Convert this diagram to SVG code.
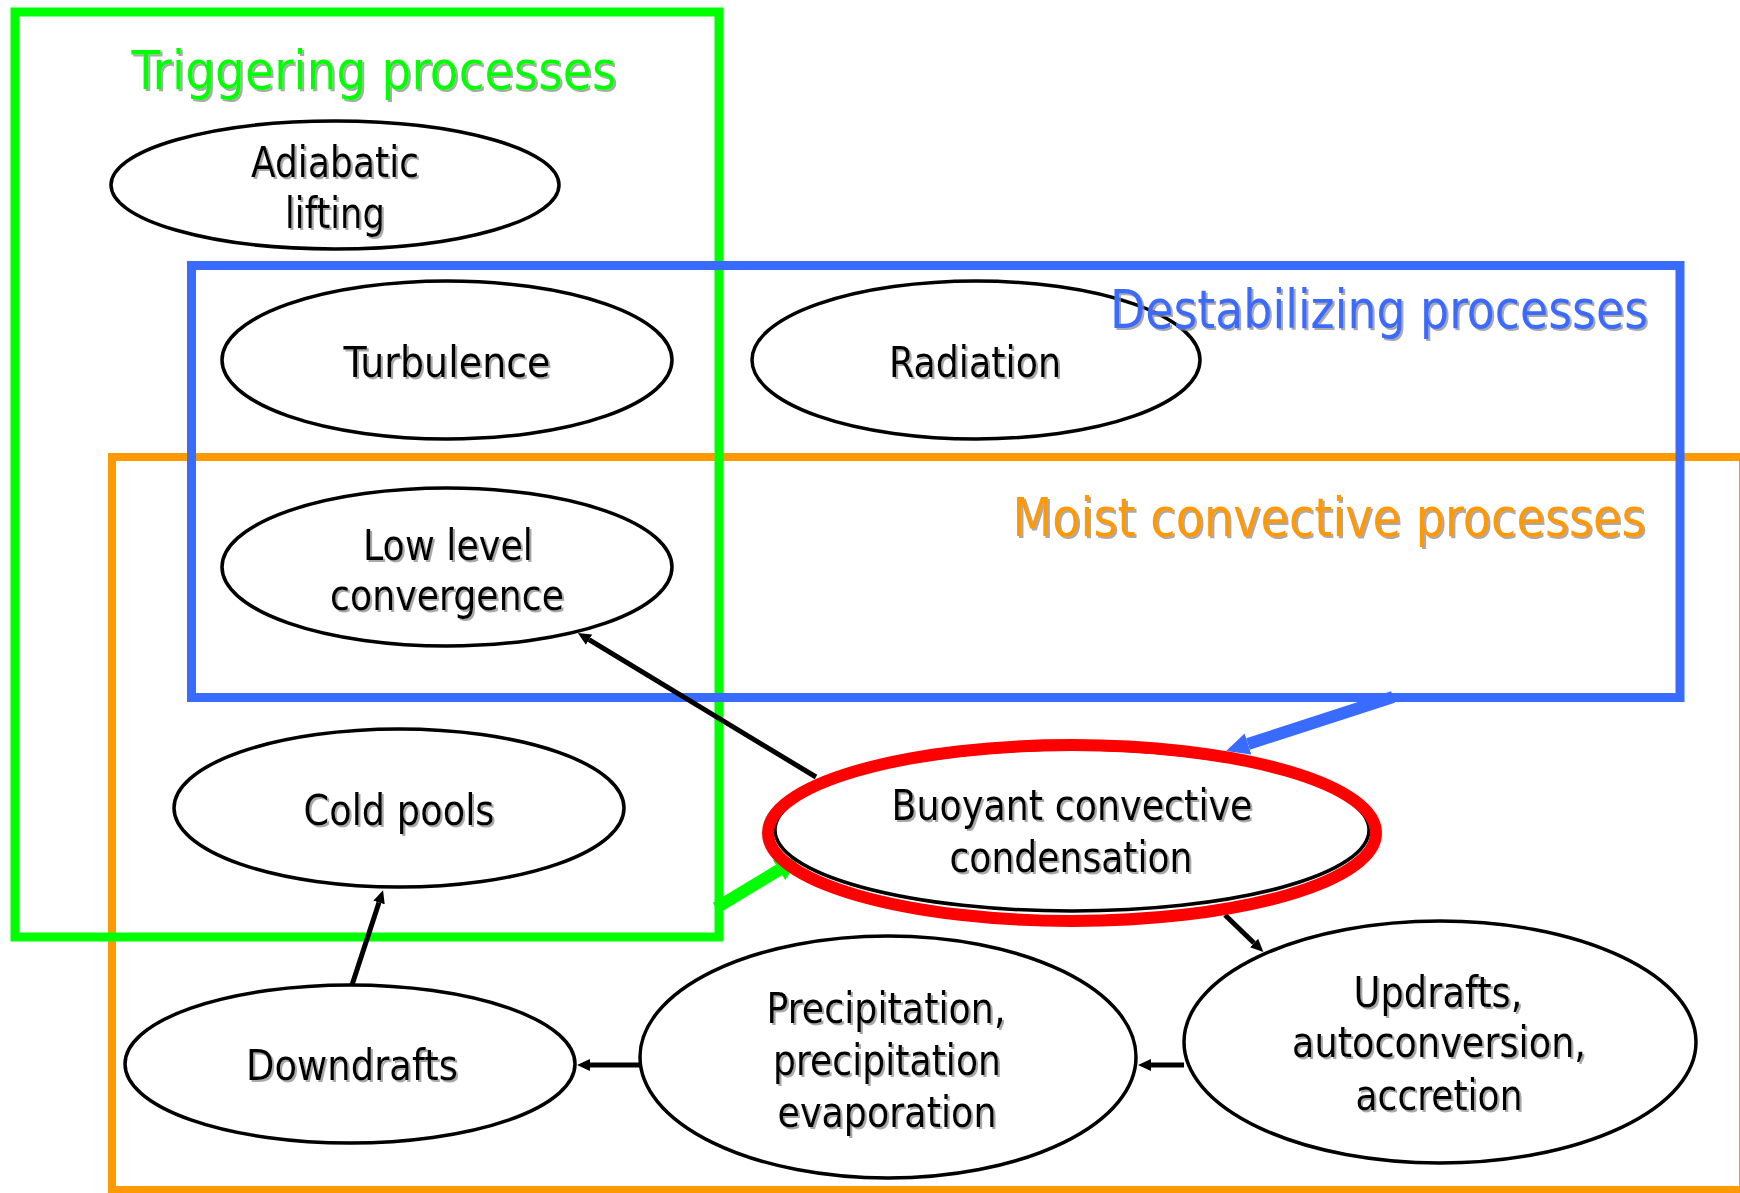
<svg xmlns="http://www.w3.org/2000/svg" width="1740" height="1193" viewBox="0 0 1740 1193">
  <defs>
    <style>
      .region { fill: none; stroke-width: 9; }
      .green { stroke: #00FF00; }
      .blue { stroke: #3A6BFF; }
      .orange { stroke: #FF9900; stroke-width: 8; }
      .node { fill: #FFFFFF; stroke: #000000; stroke-width: 3.5; }
      text { font-family: "DejaVu Sans Condensed", "DejaVu Sans", "Liberation Sans Narrow", sans-serif; font-stretch: condensed; text-anchor: middle; filter: url(#shadow); }
      .label { font-size: 42px; fill: #000000; }
      .title { font-size: 54px; }
      .link { stroke: #000000; stroke-width: 5; fill: none; marker-end: url(#head); }
      .push { stroke-width: 12; fill: none; }
    </style>
    <filter id="shadow" x="-5%" y="-20%" width="115%" height="150%">
      <feDropShadow dx="2" dy="2" stdDeviation="0.6" flood-color="#8C8C8C" flood-opacity="0.75"/>
    </filter>
    <marker id="head" markerUnits="userSpaceOnUse" viewBox="0 -7 14 14" refX="0" refY="0" markerWidth="14" markerHeight="14" orient="auto">
      <path d="M0,-6 L13,0 L0,6 z" fill="#000000"/>
    </marker>
    <marker id="head-blue" markerUnits="userSpaceOnUse" viewBox="0 -12 25 24" refX="0" refY="0" markerWidth="25" markerHeight="24" orient="auto">
      <path d="M0,-11 L23,0 L0,11 z" fill="#3A6BFF"/>
    </marker>
    <marker id="head-green" markerUnits="userSpaceOnUse" viewBox="0 -13 26 26" refX="0" refY="0" markerWidth="26" markerHeight="26" orient="auto">
      <path d="M0,-12 L24,0 L0,12 z" fill="#00FF00"/>
    </marker>
  </defs>

  <rect width="1740" height="1193" fill="#FFFFFF"/>

  <!-- process regions -->
  <g id="regions">
    <rect id="moist-region" class="region orange" x="112" y="457" width="1631" height="733"/>
    <rect id="triggering-region" class="region green" x="15" y="12" width="704" height="925"/>
    <rect id="destabilizing-region" class="region blue" x="191.5" y="265.5" width="1488.5" height="432"/>
  </g>

  <!-- connectors -->
  <g id="connectors">
    <line class="link" x1="816" y1="777" x2="589" y2="639.7"/>
    <line class="link" x1="1225" y1="915" x2="1254" y2="943"/>
    <line class="link" x1="1184" y1="1065" x2="1151" y2="1065"/>
    <line class="link" x1="640" y1="1065" x2="590" y2="1065"/>
    <line class="link" x1="352" y1="985" x2="379" y2="902.5"/>
    <line class="push" stroke="#3A6BFF" marker-end="url(#head-blue)" x1="1393" y1="697" x2="1248" y2="744"/>
    <line class="push" stroke="#00FF00" marker-end="url(#head-green)" x1="716" y1="908" x2="779" y2="870"/>
  </g>

  <!-- process nodes -->
  <g id="adiabatic-lifting">
    <ellipse class="node" cx="335" cy="185" rx="224" ry="64"/>
    <text class="label" x="335" y="177" textLength="168" lengthAdjust="spacingAndGlyphs">Adiabatic</text>
    <text class="label" x="335" y="228" textLength="100" lengthAdjust="spacingAndGlyphs">lifting</text>
  </g>
  <g id="turbulence">
    <ellipse class="node" cx="447" cy="360" rx="225" ry="79"/>
    <text class="label" x="447" y="377" textLength="207" lengthAdjust="spacingAndGlyphs">Turbulence</text>
  </g>
  <g id="radiation">
    <ellipse class="node" cx="976" cy="360" rx="224" ry="79"/>
    <text class="label" x="975" y="377" textLength="172" lengthAdjust="spacingAndGlyphs">Radiation</text>
  </g>
  <g id="low-level-convergence">
    <ellipse class="node" cx="447" cy="567" rx="225" ry="79"/>
    <text class="label" x="448" y="560" textLength="170" lengthAdjust="spacingAndGlyphs">Low level</text>
    <text class="label" x="447" y="610" textLength="234" lengthAdjust="spacingAndGlyphs">convergence</text>
  </g>
  <g id="cold-pools">
    <ellipse class="node" cx="399" cy="808" rx="225" ry="79"/>
    <text class="label" x="399" y="825" textLength="191" lengthAdjust="spacingAndGlyphs">Cold pools</text>
  </g>
  <g id="buoyant-convective-condensation">
    <ellipse class="node" cx="1072" cy="830" rx="297" ry="81" stroke-width="3"/>
    <ellipse cx="1072" cy="833" rx="304" ry="88" fill="none" stroke="#FF0000" stroke-width="12"/>
    <text class="label" x="1072" y="820" textLength="361" lengthAdjust="spacingAndGlyphs">Buoyant convective</text>
    <text class="label" x="1071" y="872" textLength="243" lengthAdjust="spacingAndGlyphs">condensation</text>
  </g>
  <g id="downdrafts">
    <ellipse class="node" cx="350" cy="1064" rx="225" ry="79"/>
    <text class="label" x="352" y="1080" textLength="212" lengthAdjust="spacingAndGlyphs">Downdrafts</text>
  </g>
  <g id="precipitation-evaporation">
    <ellipse class="node" cx="888" cy="1057" rx="248" ry="121"/>
    <text class="label" x="886" y="1023" textLength="239" lengthAdjust="spacingAndGlyphs">Precipitation,</text>
    <text class="label" x="887" y="1075" textLength="228" lengthAdjust="spacingAndGlyphs">precipitation</text>
    <text class="label" x="887" y="1127" textLength="219" lengthAdjust="spacingAndGlyphs">evaporation</text>
  </g>
  <g id="updrafts-autoconversion-accretion">
    <ellipse class="node" cx="1440" cy="1042" rx="256" ry="121"/>
    <text class="label" x="1438" y="1007" textLength="169" lengthAdjust="spacingAndGlyphs">Updrafts,</text>
    <text class="label" x="1439" y="1057" textLength="294" lengthAdjust="spacingAndGlyphs">autoconversion,</text>
    <text class="label" x="1439" y="1110" textLength="167" lengthAdjust="spacingAndGlyphs">accretion</text>
  </g>

  <!-- region titles -->
  <g id="region-titles">
    <text class="title" x="374" y="89" fill="#00FF00" textLength="485" lengthAdjust="spacingAndGlyphs">Triggering processes</text>
    <text class="title" x="1379" y="328" fill="#3A6BFF" textLength="538" lengthAdjust="spacingAndGlyphs">Destabilizing processes</text>
    <text class="title" x="1329" y="536" fill="#FF9900" textLength="633" lengthAdjust="spacingAndGlyphs">Moist convective processes</text>
  </g>
</svg>
